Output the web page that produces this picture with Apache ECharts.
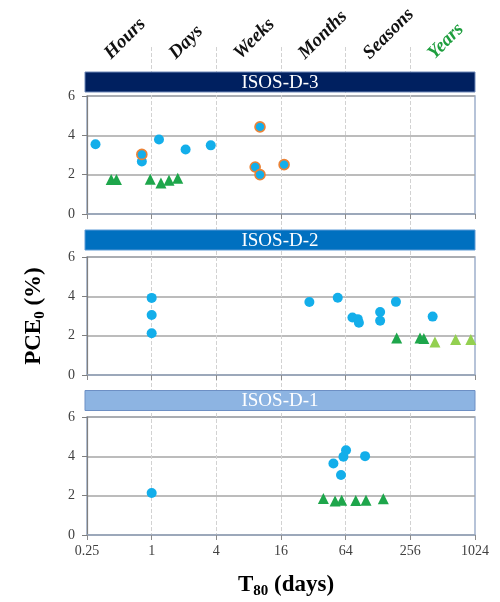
<!DOCTYPE html>
<html><head><meta charset="utf-8">
<script src="https://cdn.jsdelivr.net/npm/echarts@6/dist/echarts.min.js"></script>
<style>html,body{margin:0;padding:0;background:#fff}#c{width:500px;height:602px}</style>
</head><body><div id="c"></div>
<script>
// ---- data (T80 in days, PCE0 in %) ----
const xTicks = [0.25, 1, 4, 16, 64, 256, 1024];
const yTicks = [0, 2, 4, 6];
const timeScales = ['Hours', 'Days', 'Weeks', 'Months', 'Seasons', 'Years'];
const panelNames = ['ISOS-D-3', 'ISOS-D-2', 'ISOS-D-1'];

const d3Blue = [[0.30, 3.55], [0.81, 2.67], [1.17, 3.79], [2.07, 3.28], [3.55, 3.49]];
const d3Orange = [[0.81, 3.03], [9.2, 2.39], [10.2, 4.43], [10.2, 2.0], [17.1, 2.51]];
const d3Green = [[0.42, 1.76], [0.47, 1.76], [0.97, 1.77], [1.22, 1.57], [1.45, 1.72], [1.75, 1.82]];

const d2Blue = [[1.0, 3.92], [1.0, 3.05], [1.0, 2.12], [29.4, 3.71], [54, 3.93], [74, 2.92], [83, 2.84], [85, 2.66],
                [134, 3.2], [134, 2.76], [188, 3.72], [413, 2.97]];
const d2Green = [[191, 1.88], [315, 1.88], [342, 1.85]];
const d2LightGreen = [[434, 1.68], [676, 1.8], [936, 1.81]];

const d1Blue = [[1.0, 2.14], [49.2, 3.64], [57.9, 3.05], [61, 3.98], [64.5, 4.31], [97, 4.01]];
const d1Green = [[39.7, 1.85], [51, 1.73], [58.8, 1.77], [79.4, 1.75], [99, 1.77], [143.5, 1.84]];

// ---- styling / layout ----
const SERIF = '"Liberation Serif", "Times New Roman", serif';
const BLUE = '#13aeea', ORANGE = '#ec8235', GREEN = '#1ea64b', LGREEN = '#93d050';
const L = 87, R = 25;
const PANEL_TOPS = [96, 257, 417], PANEL_H = 118;
const BAR_TOPS = [72, 230, 390.5], BAR_H = 20;
const BAR_COLORS = ['#002060', '#0070c0', '#8db4e2'];
const BAR_STROKES = ['#6f88b8', '#5c9ad6', '#6d8fc4'];

const panels = [
  { blue: d3Blue, orange: d3Orange, green: d3Green, lgreen: [] },
  { blue: d2Blue, orange: [], green: d2Green, lgreen: d2LightGreen },
  { blue: d1Blue, orange: [], green: d1Green, lgreen: [] }
];

const grids = PANEL_TOPS.map(t => ({
  left: L, right: R, top: t, height: PANEL_H, show: true,
  borderColor: '#9fb0cc', borderWidth: 1.5, backgroundColor: 'transparent'
}));
grids.push({ left: L, right: R, top: 47, bottom: 66 });

// log2 axis: interval is in exponent space (2 -> factor 4); min exponent -2 is a multiple of it
const logAxisBase = {
  type: 'log', logBase: 2, min: xTicks[0], max: xTicks[xTicks.length - 1], interval: 2
};

const titleRich = {
  a: { fontFamily: SERIF, fontWeight: 'bold', fontSize: 23, color: '#000', lineHeight: 28 },
  b: { fontFamily: SERIF, fontWeight: 'bold', fontSize: 15, color: '#000', lineHeight: 8, verticalAlign: 'bottom' }
};

const xAxes = panels.map((p, i) => Object.assign({}, logAxisBase, {
  gridIndex: i,
  axisLine: { show: true, onZero: false, lineStyle: { color: '#98a6bd', width: 1.5 } },
  axisTick: { show: true, inside: false, length: 5, lineStyle: { color: '#8c8c8c' } },
  axisLabel: { show: i === 2, fontFamily: SERIF, fontSize: 14, color: '#404040', margin: 9,
               formatter: v => String(+(+v).toPrecision(6)) },
  splitLine: { show: false },
  name: i === 2 ? '{a|T}{b|80}{a| (days)}' : '',
  nameLocation: 'middle', nameGap: 36,
  nameTextStyle: { padding: [0, 0, 0, 10], rich: titleRich }
}));
xAxes.push(Object.assign({}, logAxisBase, {
  gridIndex: 3,
  axisLine: { show: false }, axisTick: { show: false }, axisLabel: { show: false },
  splitLine: { show: true, showMinLine: false, showMaxLine: false,
               lineStyle: { color: '#d2d2d2', type: 'dashed', width: 1 } }
}));

const yAxes = panels.map((p, i) => ({
  type: 'value', gridIndex: i, min: yTicks[0], max: yTicks[yTicks.length - 1], interval: yTicks[1] - yTicks[0],
  axisLine: { show: true, lineStyle: { color: '#7f7f7f', width: 1.2 } },
  axisTick: { show: true, inside: false, length: 5, lineStyle: { color: '#7f7f7f' } },
  axisLabel: { fontFamily: SERIF, fontSize: 14, color: '#404040', margin: 12 },
  splitLine: { show: true, lineStyle: { color: '#a6a6a6', width: 1.5 } },
  name: i === 1 ? '{a|PCE}{b|0}{a| (%)}' : '',
  nameLocation: 'middle', nameRotate: 90, nameGap: 39,
  nameTextStyle: { rich: titleRich }
}));
yAxes.push({ type: 'value', gridIndex: 3, min: 0, max: 1, show: false });

const series = [];
panels.forEach((p, i) => {
  series.push({ type: 'scatter', xAxisIndex: i, yAxisIndex: i, data: p.green, symbol: 'triangle', symbolSize: 11,
                itemStyle: { color: GREEN, opacity: 1 }, z: 3 });
  series.push({ type: 'scatter', xAxisIndex: i, yAxisIndex: i, data: p.lgreen, symbol: 'triangle', symbolSize: 11,
                itemStyle: { color: LGREEN, opacity: 1 }, z: 3 });
  series.push({ type: 'scatter', xAxisIndex: i, yAxisIndex: i, data: p.blue, symbol: 'circle', symbolSize: 10,
                itemStyle: { color: BLUE, opacity: 1 }, z: 4 });
  series.push({ type: 'scatter', xAxisIndex: i, yAxisIndex: i, data: p.orange, symbol: 'circle', symbolSize: 10,
                itemStyle: { color: BLUE, borderColor: ORANGE, borderWidth: 1.6, opacity: 1 }, z: 5 });
});
series.push({ type: 'scatter', xAxisIndex: 3, yAxisIndex: 3, data: [], silent: true });

const chart = echarts.init(document.getElementById('c'), null, { renderer: 'canvas' });
chart.setOption({
  animation: false,
  backgroundColor: '#fff',
  grid: grids, xAxis: xAxes, yAxis: yAxes, series: series
});

// panel title bars + time scale labels
const graphics = [];
panelNames.forEach((name, i) => {
  graphics.push({
    type: 'rect', z: 10,
    shape: { x: L - 2, y: BAR_TOPS[i], width: 500 - R - (L - 2), height: BAR_H },
    style: { fill: BAR_COLORS[i], stroke: BAR_STROKES[i], lineWidth: 1 }
  });
  graphics.push({
    type: 'text', z: 11,
    x: (L - 2 + 500 - R) / 2, y: BAR_TOPS[i] + BAR_H / 2 + 1,
    style: { text: name, fill: '#fff', font: '19px ' + SERIF, align: 'center', verticalAlign: 'middle' }
  });
});
timeScales.forEach((t, k) => {
  const mid = Math.sqrt(xTicks[k] * xTicks[k + 1]);
  const px = chart.convertToPixel({ xAxisIndex: 3 }, mid);
  graphics.push({
    type: 'text', z: 11, x: px - 5, y: 63, rotation: Math.PI / 4,
    style: { text: t, fill: t === 'Years' ? '#1e9e3e' : '#111', font: 'italic bold 19px ' + SERIF,
             align: 'left', verticalAlign: 'bottom' }
  });
});
chart.setOption({ graphic: graphics });
</script>
</body></html>
